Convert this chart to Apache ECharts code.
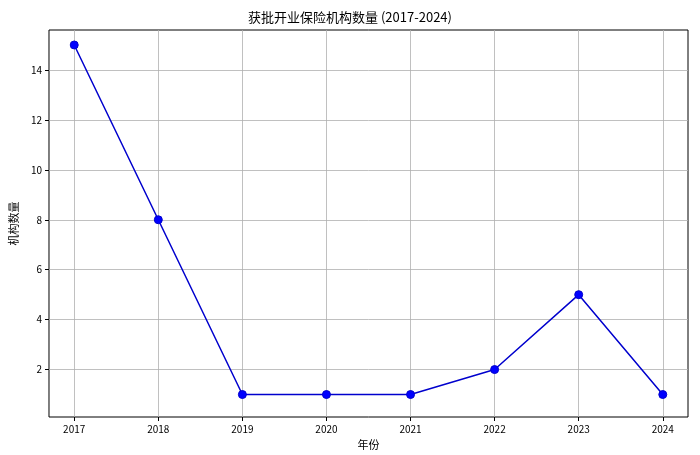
<!DOCTYPE html>
<html><head><meta charset="utf-8">
<script src="https://cdn.jsdelivr.net/npm/echarts@6/dist/echarts.min.js"></script>
<style>html,body{margin:0;padding:0;background:#fff}#c{width:700px;height:455px}</style>
</head><body><div id="c"></div>
<script>
const years = [2017, 2018, 2019, 2020, 2021, 2022, 2023, 2024];
const counts = [15, 8, 1, 1, 1, 2, 5, 1];
const yTicks = [2, 4, 6, 8, 10, 12, 14];
const F = '"Noto Sans CJK SC", sans-serif';
const chart = echarts.init(document.getElementById('c'));
chart.setOption({
  animation: false,
  title: {text: '获批开业保险机构数量 (2017-2024)', left: 'center', top: 6,
    textStyle: {fontFamily: F, fontSize: 13, fontWeight: 'normal', color: '#000'}},
  grid: {left: 47, right: 12, top: 30, bottom: 36, show: true, borderColor: '#000', borderWidth: 1},
  xAxis: {type: 'value', min: 2016.7, max: 2024.3, name: '年份', nameLocation: 'middle', nameGap: 22,
    nameTextStyle: {fontFamily: F, fontSize: 11, color: '#000'},
    axisLine: {show: false},
    axisTick: {show: true, customValues: years, length: 4, lineStyle: {color: '#000'}},
    axisLabel: {customValues: years, formatter: v => String(v), fontFamily: F, fontSize: 10, color: '#000', margin: 7},
    splitLine: {show: true, lineStyle: {color: '#b0b0b0', width: 0.8}}},
  yAxis: {type: 'value', min: 0.1, max: 15.6, name: '机构数量', nameLocation: 'middle', nameGap: 30,
    nameTextStyle: {fontFamily: F, fontSize: 11, color: '#000'},
    axisLine: {show: false},
    axisTick: {show: true, customValues: yTicks, length: 4, lineStyle: {color: '#000'}},
    axisLabel: {customValues: yTicks, fontFamily: F, fontSize: 10, color: '#000', margin: 7},
    splitLine: {show: true, lineStyle: {color: '#b0b0b0', width: 0.8}}},
  series: [{type: 'line', data: years.map((y, i) => [y, counts[i]]),
    symbol: 'circle', symbolSize: 8,
    lineStyle: {color: '#0000CD', width: 1.5},
    itemStyle: {color: '#0000FF', borderColor: '#0000CD', borderWidth: 1}}]
});
</script></body></html>
